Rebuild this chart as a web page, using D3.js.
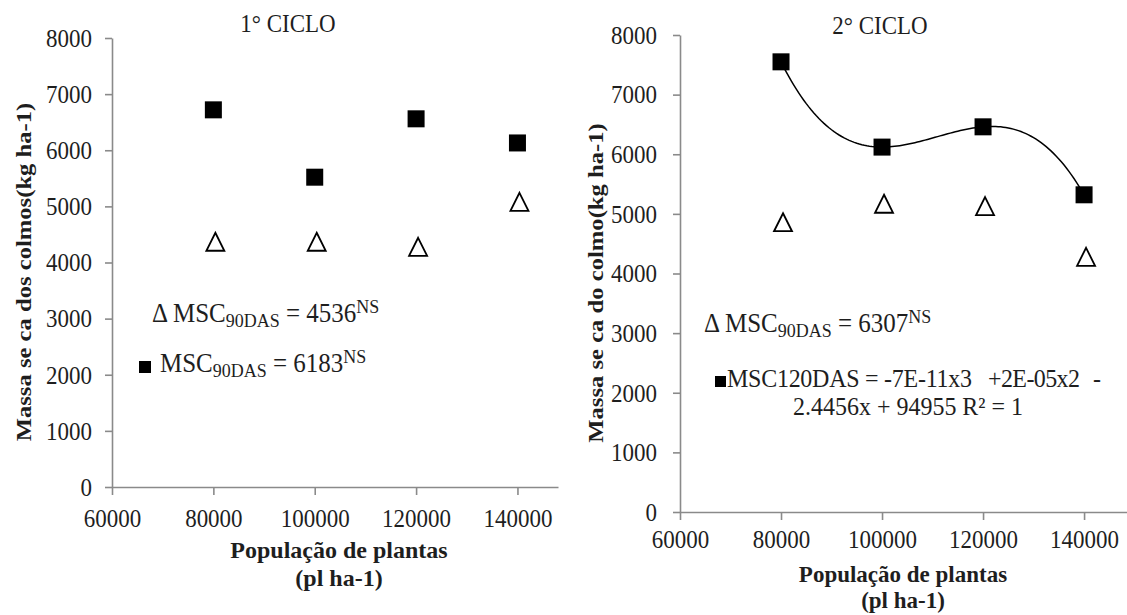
<!DOCTYPE html>
<html>
<head>
<meta charset="utf-8">
<script src="https://cdn.jsdelivr.net/npm/d3@7"></script>
<style>
  body { margin: 0; background: white; }
  svg { display: block; }
</style>
</head>
<body>
<svg id="grafico" width="1127" height="615"></svg>
<script>
'use strict';

// Valores
const populacao = [80000, 100000, 120000, 140000];
const ciclo1Quadrado = [6720, 5520, 6560, 6130];
const ciclo1Triangulo = [4370, 4370, 4280, 5080];
const ciclo2Quadrado = [7550, 6120, 6460, 5320];
const ciclo2Triangulo = [4860, 5170, 5130, 4280];
const xTicks = [60000, 80000, 100000, 120000, 140000];
const yTicks = [0, 1000, 2000, 3000, 4000, 5000, 6000, 7000, 8000];
const titulos = ['1° CICLO', '2° CICLO'];
const yTitulos = ['Massa se ca dos colmos(kg ha-1)', 'Massa se ca do colmo(kg ha-1)'];
const xTitulos = ['População de plantas', '(pl ha-1)'];

const FONTE = '"Liberation Serif", "Times New Roman", Times, serif';
const SY = 1.12;          // o texto do original é um pouco esticado na vertical
const COR_EIXO = '#8a8a8a';
const COR_TEXTO = '#1e1e1e';

const svg = d3.select('#grafico');

/* Texto com o esticamento vertical
   rot: rotação em graus (opcional), sy: esticamento (opcional) */
function texto(g, x, y, str, size, anchor, bold, rot, sy) {
  return g.append('text')
    .attr('transform', 'translate(' + x + ',' + y + ') scale(1,' + (sy || SY) + ')' + (rot ? ' rotate(' + rot + ')' : ''))
    .attr('text-anchor', anchor || 'start')
    .attr('font-family', FONTE)
    .attr('font-size', size)
    .attr('font-weight', bold ? 'bold' : 'normal')
    .attr('fill', COR_TEXTO)
    .text(str);
}

// Polinômio de Lagrange pelos 4 pontos (linha de tendência cúbica, R² = 1)
function lagrange(xs, ys, x) {
  let s = 0;
  for (let i = 0; i < xs.length; i++) {
    let p = ys[i];
    for (let j = 0; j < xs.length; j++) {
      if (j !== i) p *= (x - xs[j]) / (xs[i] - xs[j]);
    }
    s += p;
  }
  return s;
}

function desenhaPainel(p) {
  const x = d3.scaleLinear().domain([60000, p.xMax]).range([p.esq, p.dir]);
  const y = d3.scaleLinear().domain([0, 8000]).range([p.base, p.topo]);
  const g = svg.append('g');

  // Eixo Y
  const ay = g.append('g')
    .attr('transform', 'translate(' + p.esq + ',0)')
    .call(d3.axisLeft(y).tickValues(yTicks).tickSize(7).tickSizeOuter(0).tickFormat(d3.format('d')));
  ay.attr('font-family', FONTE);
  ay.select('.domain').attr('stroke', COR_EIXO).attr('stroke-width', 1.6);
  ay.selectAll('.tick line').attr('stroke', COR_EIXO).attr('stroke-width', 1.6);
  ay.selectAll('.tick text')
    .attr('x', -p.yPad).attr('dy', '0.32em')
    .attr('transform', 'scale(1,' + SY + ')')
    .attr('font-family', FONTE).attr('font-size', 23).attr('fill', COR_TEXTO);

  // Eixo X
  const ax = g.append('g')
    .attr('transform', 'translate(0,' + p.base + ')')
    .call(d3.axisBottom(x).tickValues(xTicks).tickSize(8).tickSizeOuter(0).tickFormat(d3.format('d')));
  ax.attr('font-family', FONTE);
  ax.select('.domain').attr('stroke', COR_EIXO).attr('stroke-width', 1.6);
  ax.selectAll('.tick line').attr('stroke', COR_EIXO).attr('stroke-width', 1.6);
  ax.selectAll('.tick text')
    .attr('y', p.xPad / SY).attr('dy', 0)
    .attr('transform', 'scale(1,' + SY + ')')
    .attr('font-family', FONTE).attr('font-size', 23).attr('fill', COR_TEXTO);

  // Linha de tendência
  if (p.tendencia) {
    const xs = d3.range(populacao[0], populacao[3] + 1, 500);
    g.append('path')
      .attr('fill', 'none')
      .attr('stroke', 'black')
      .attr('stroke-width', 1.5)
      .attr('d', d3.line()
        .x(function(d) { return x(d); })
        .y(function(d) { return y(lagrange(populacao, p.quad, d)); })(xs));
  }

  // Triângulos vazados
  g.selectAll('.tri')
    .data(p.tri)
    .join('path')
    .attr('fill', 'white')
    .attr('stroke', 'black')
    .attr('stroke-width', 1.8)
    .attr('d', 'M0,-9 L9,9 L-9,9 Z')
    .attr('transform', function(d, i) { return 'translate(' + (x(populacao[i]) + 2) + ',' + y(d) + ')'; });

  // Quadrados cheios
  g.selectAll('.quad')
    .data(p.quad)
    .join('rect')
    .attr('fill', 'black')
    .attr('width', 17).attr('height', 17)
    .attr('x', function(d, i) { return x(populacao[i]) - 8.5; })
    .attr('y', function(d) { return y(d) - 8.5; });

  // Títulos
  texto(g, p.tituloX, p.tituloY, p.titulo, 23, 'middle');
  texto(g, p.yTitX, p.yTitY, p.yTitulo, 22, 'middle', true, -90);
  texto(g, p.xTitX, p.xTitY, xTitulos[0], p.xTitFonte, 'middle', true, 0, 1);
  texto(g, p.xTitX, p.xTitY + p.xTitGap, xTitulos[1], p.xTitFonte, 'middle', true, 0, 1);
  return g;
}

// Equação com subscrito e sobrescrito
function equacao(g, x, y, prefixo, valor) {
  const t = texto(g, x, y, '', 25, 'start', false, 0, 1.05);
  t.append('tspan').text(prefixo + 'MSC');
  t.append('tspan').attr('font-size', 18).attr('dy', 5).text('90DAS');
  t.append('tspan').attr('dy', -5).text(' = ' + valor);
  t.append('tspan').attr('font-size', 18).attr('dy', -9).text('NS');
}

const g1 = desenhaPainel({
  esq: 112, dir: 558, xMax: 148000, base: 487, topo: 38, yPad: 20, xPad: 40,
  quad: ciclo1Quadrado, tri: ciclo1Triangulo, tendencia: false,
  titulo: titulos[0], tituloX: 288, tituloY: 32,
  yTitulo: yTitulos[0], yTitX: 31, yTitY: 272,
  xTitX: 339, xTitY: 558, xTitGap: 28, xTitFonte: 24
});
equacao(g1, 152, 322, 'Δ ', '4536');
g1.append('rect').attr('x', 139).attr('y', 361).attr('width', 12).attr('height', 12).attr('fill', 'black');
equacao(g1, 160, 372, '', '6183');

const g2 = desenhaPainel({
  esq: 680, dir: 1127, xMax: 148500, base: 512, topo: 35, yPad: 23, xPad: 36,
  quad: ciclo2Quadrado, tri: ciclo2Triangulo, tendencia: true,
  titulo: titulos[1], tituloX: 880, tituloY: 34,
  yTitulo: yTitulos[1], yTitX: 603, yTitY: 283,
  xTitX: 903, xTitY: 582, xTitGap: 26, xTitFonte: 23
});
equacao(g2, 704, 332, 'Δ ', '6307');
g2.append('rect').attr('x', 715).attr('y', 376).attr('width', 11).attr('height', 11).attr('fill', 'black');
// Primeira linha da equação da tendência, em três partes como no original
texto(g2, 727, 387, 'MSC120DAS = -7E-11x3', 24, 'start', false, 0, 1.05).attr('textLength', 245).attr('lengthAdjust', 'spacing');
texto(g2, 988, 387, '+2E-05x2', 24, 'start', false, 0, 1.05).attr('textLength', 92).attr('lengthAdjust', 'spacing');
texto(g2, 1093, 387, '-', 24, 'start', false, 0, 1.05);
texto(g2, 908, 415, '2.4456x + 94955 R² = 1', 24, 'middle', false, 0, 1.05);
</script>
</body>
</html>
